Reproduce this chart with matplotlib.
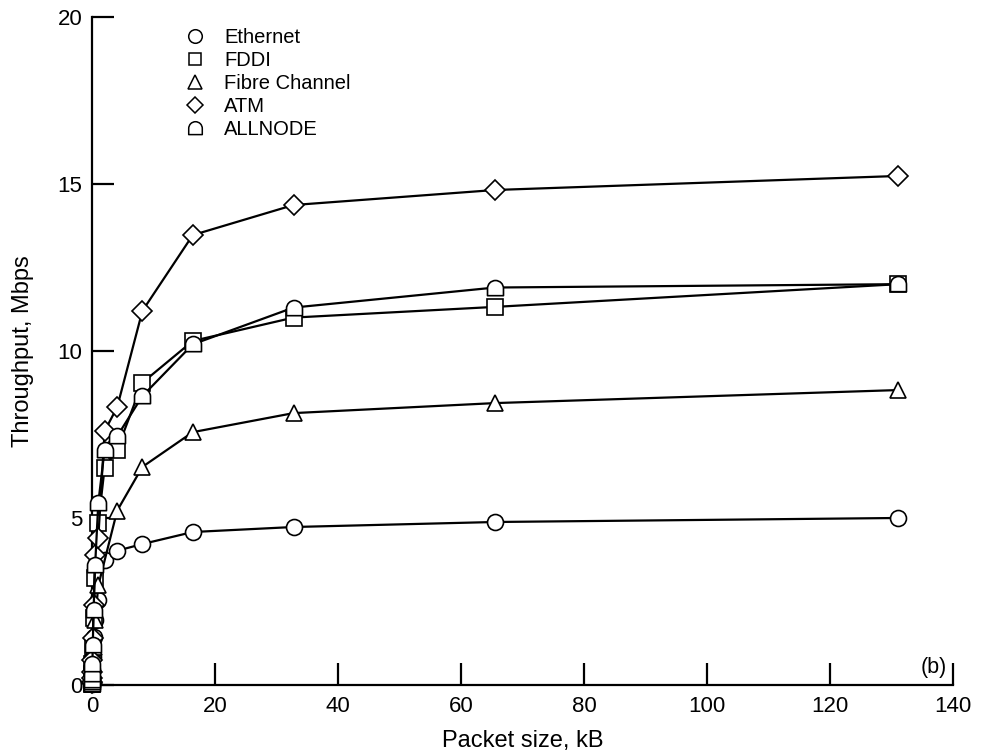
import matplotlib
matplotlib.use('Agg')
import matplotlib.pyplot as plt
import numpy as np
from matplotlib.path import Path
from matplotlib.lines import Line2D

plt.rcParams['font.family'] = ['Liberation Sans', 'DejaVu Sans']

# packet sizes, kB
pkt = [0.004, 0.008, 0.016, 0.032, 0.064, 0.128, 0.256, 0.512, 1.024,
       2.048, 4.096, 8.192, 16.384, 32.768, 65.536, 131.072]
pkt_fc = [0.004, 0.008, 0.016, 0.032, 0.064, 0.128, 0.256, 0.512, 1.024,
          4.096, 8.192, 16.384, 32.768, 65.536, 131.072]

# throughput, Mbps
ethernet = [0.03, 0.06, 0.12, 0.24, 0.45, 0.85, 1.45, 1.95, 2.55,
            3.74, 4.02, 4.22, 4.58, 4.73, 4.88, 5.0]
fddi = [0.04, 0.08, 0.16, 0.32, 0.62, 1.15, 2.0, 3.2, 4.85,
        6.5, 7.05, 9.05, 10.3, 11.0, 11.32, 12.0]
fibre = [0.02, 0.04, 0.08, 0.16, 0.32, 0.62, 1.15, 1.95, 2.98,
         5.22, 6.53, 7.57, 8.14, 8.44, 8.83]
atm = [0.05, 0.1, 0.2, 0.4, 0.75, 1.4, 2.4, 3.9, 4.4,
       7.6, 8.32, 11.2, 13.47, 14.37, 14.82, 15.24]
allnode = [0.04, 0.08, 0.16, 0.32, 0.62, 1.2, 2.25, 3.6, 5.45,
           7.05, 7.45, 8.65, 10.2, 11.3, 11.9, 12.0]

labels = ['Ethernet', 'FDDI', 'Fibre Channel', 'ATM', 'ALLNODE']

# dome marker for ALLNODE: half circle on top, flat sides and bottom
arc = Path.arc(0, 180)
verts = np.vstack([[[1.0, -0.9]], arc.vertices, [[-1.0, -0.9], [1.0, -0.9]]])
codes = [Path.MOVETO] + [Path.LINETO] + list(arc.codes[1:]) + [Path.LINETO, Path.CLOSEPOLY]
dome = Path(verts, codes)

fig = plt.figure(figsize=(9.83, 7.51), dpi=100)
ax = fig.add_axes([0.0936, 0.0879, 0.8759, 0.8895])

series = [
    (pkt, ethernet, 'o', 11.5),
    (pkt, fddi, 's', 11),
    (pkt_fc, fibre, '^', 11.5),
    (pkt, atm, 'D', 10),
    (pkt, allnode, dome, 11.5),
]
for x, y, m, ms in series:
    ax.plot(x, y, color='k', lw=1.6, marker=m, markersize=ms,
            mfc='white', mec='k', mew=1.2, clip_on=False, zorder=3)

ax.set_xlim(0, 140)
ax.set_ylim(0, 20)
ax.set_xticks([0, 20, 40, 60, 80, 100, 120, 140])
ax.set_yticks([0, 5, 10, 15, 20])
ax.spines['top'].set_visible(False)
ax.spines['right'].set_visible(False)
for s in ['left', 'bottom']:
    ax.spines[s].set_linewidth(1.6)
ax.tick_params(axis='both', direction='in', length=16, width=1.6,
               labelsize=16)
ax.tick_params(axis='y', pad=7)
ax.tick_params(axis='x', pad=8)

ax.set_xlabel('Packet size, kB', fontsize=17, labelpad=9)
ax.set_ylabel('Throughput, Mbps', fontsize=17, labelpad=17)

ax.text(139, 0.2, '(b)', fontsize=15.5, ha='right', va='bottom')

# legend
handles = [Line2D([], [], ls='none', marker=m, markersize=ms * 0.85,
                  mfc='white', mec='k', mew=1.1)
           for _, _, m, ms in series]
ax.legend(handles, labels, loc='upper left', bbox_to_anchor=(0.0985, 0.995),
          frameon=False, fontsize=14.5, handlelength=1.0, handletextpad=0.95,
          labelspacing=0.19, borderaxespad=0)

fig.savefig('out.png', dpi=100)
